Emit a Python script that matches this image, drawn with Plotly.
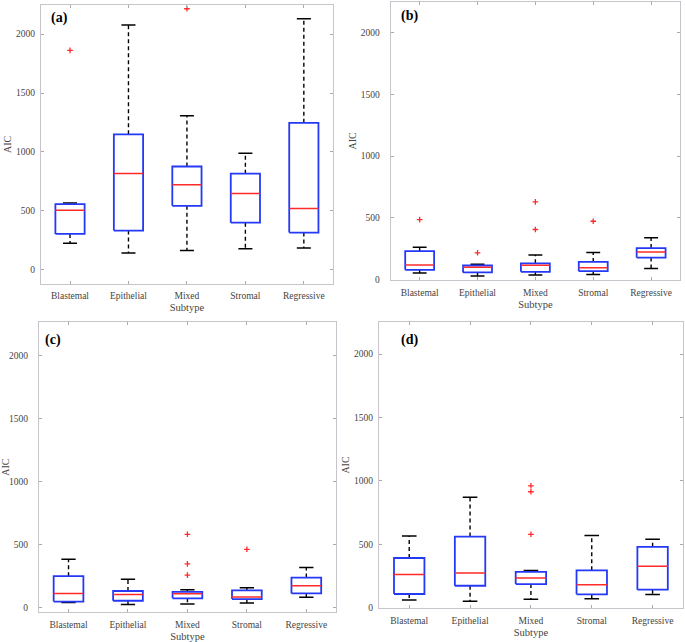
import plotly.graph_objects as go
from plotly.subplots import make_subplots

CATEGORIES = ["Blastemal", "Epithelial", "Mixed", "Stromal", "Regressive"]
Y_TICKS = [0, 500, 1000, 1500, 2000]
PANEL_LABELS = ["(a)", "(b)", "(c)", "(d)"]

# Panel (a)
A_LOWER = [225, 141, 163, 177, 183]
A_Q1 = [303, 332, 542, 399, 315]
A_MEDIAN = [505, 817, 722, 646, 520]
A_Q3 = [556, 1149, 876, 815, 1247]
A_UPPER = [565, 2078, 1306, 989, 2131]
A_OUTLIERS = [[1862], [], [2216], [], []]

# Panel (b)
B_LOWER = [51, 27, 35, 40, 88]
B_Q1 = [77, 56, 61, 66, 176]
B_MEDIAN = [117, 98, 114, 93, 221]
B_Q3 = [229, 112, 130, 141, 253]
B_UPPER = [260, 122, 197, 218, 338]
B_OUTLIERS = [[484], [215], [404, 628], [471], []]

# Panel (c)
C_LOWER = [40, 26, 29, 37, 82]
C_Q1 = [48, 55, 74, 68, 113]
C_MEDIAN = [113, 105, 110, 84, 174]
C_Q3 = [250, 132, 126, 137, 239]
C_UPPER = [384, 226, 142, 158, 318]
C_OUTLIERS = [[], [], [258, 347, 582], [463], []]

# Panel (d)
D_LOWER = [60, 49, 65, 70, 102]
D_Q1 = [107, 172, 185, 104, 141]
D_MEDIAN = [260, 273, 234, 180, 326]
D_Q3 = [391, 560, 281, 294, 479]
D_UPPER = [565, 870, 292, 568, 539]
D_OUTLIERS = [[], [], [578, 914, 961], [], []]

PANELS = [
    (A_LOWER, A_Q1, A_MEDIAN, A_Q3, A_UPPER, A_OUTLIERS),
    (B_LOWER, B_Q1, B_MEDIAN, B_Q3, B_UPPER, B_OUTLIERS),
    (C_LOWER, C_Q1, C_MEDIAN, C_Q3, C_UPPER, C_OUTLIERS),
    (D_LOWER, D_Q1, D_MEDIAN, D_Q3, D_UPPER, D_OUTLIERS),
]

W, H = 685, 642
# plot-area pixel boxes (left, right, top, bottom)
PIX = [(37, 331, 5, 286), (389, 680, 2, 282), (35, 334, 325, 616.5), (377, 683, 325, 612.3)]
Y_RANGES = [(-120, 2248), (-4, 2250), (-32, 2262), (0, 2250)]
LABEL_POS = [(45, 8), (397, 6), (39, 333), (397, 333)]
YLAB_STANDOFF = [3, 8, 8, 3]
XLAB_STANDOFF = [3, 4, 4, 4]

BOX_HALF = 0.25
CAP_HALF = 0.12
BLUE = "#2439f5"
RED = "#ff2a2a"

fig = make_subplots(rows=2, cols=2)

for p, (low, q1, med, q3, up, outs) in enumerate(PANELS):
    r, c = p // 2 + 1, p % 2 + 1
    bx, by, mx, my, wx, wy, cx, cy, ox, oy = [], [], [], [], [], [], [], [], [], []
    for i in range(len(CATEGORIES)):
        x0 = i + 1
        bx += [x0 - BOX_HALF, x0 + BOX_HALF, x0 + BOX_HALF, x0 - BOX_HALF, x0 - BOX_HALF, None]
        by += [q1[i], q1[i], q3[i], q3[i], q1[i], None]
        mx += [x0 - BOX_HALF, x0 + BOX_HALF, None]
        my += [med[i], med[i], None]
        wx += [x0, x0, None, x0, x0, None]
        wy += [q3[i], up[i], None, q1[i], low[i], None]
        cx += [x0 - CAP_HALF, x0 + CAP_HALF, None, x0 - CAP_HALF, x0 + CAP_HALF, None]
        cy += [up[i], up[i], None, low[i], low[i], None]
        for o in outs[i]:
            ox.append(x0)
            oy.append(o)
    fig.add_trace(go.Scatter(x=wx, y=wy, mode="lines", line=dict(color="black", width=1.4, dash="4px,3px"),
                             showlegend=False, hoverinfo="skip"), row=r, col=c)
    fig.add_trace(go.Scatter(x=cx, y=cy, mode="lines", line=dict(color="black", width=1.5),
                             showlegend=False, hoverinfo="skip"), row=r, col=c)
    fig.add_trace(go.Scatter(x=bx, y=by, mode="lines", line=dict(color=BLUE, width=1.8),
                             showlegend=False), row=r, col=c)
    fig.add_trace(go.Scatter(x=mx, y=my, mode="lines", line=dict(color=RED, width=1.5),
                             showlegend=False), row=r, col=c)
    fig.add_trace(go.Scatter(x=ox, y=oy, mode="markers",
                             marker=dict(symbol="cross-thin", size=4, line=dict(color=RED, width=1.3)),
                             showlegend=False), row=r, col=c)

    L, R, T, B = PIX[p]
    xd = [L / W, R / W]
    yd = [1 - B / H, 1 - T / H]
    fig.update_xaxes(row=r, col=c, domain=xd, range=[0.5, 5.5], tickmode="array",
                     tickvals=list(range(1, len(CATEGORIES) + 1)), ticktext=CATEGORIES,
                     ticks="inside", ticklen=3, tickcolor="#aaaaaa", showline=True,
                     linecolor="#c9c3cc", linewidth=1, mirror="ticks", showgrid=False, zeroline=False,
                     tickfont=dict(family="Liberation Serif", size=9.5, color="#444444"),
                     ticklabelstandoff=XLAB_STANDOFF[p],
                     title=dict(text="Subtype", standoff=3,
                                font=dict(family="Liberation Serif", size=10.5, color="#444444")))
    fig.update_yaxes(row=r, col=c, domain=yd, range=list(Y_RANGES[p]), tickmode="array",
                     tickvals=Y_TICKS, ticks="inside", ticklen=3, tickcolor="#aaaaaa", showline=True,
                     linecolor="#c9c3cc", linewidth=1, mirror="ticks", showgrid=False, zeroline=False,
                     tickfont=dict(family="Liberation Serif", size=9.5, color="#444444"),
                     ticklabelstandoff=YLAB_STANDOFF[p],
                     title=dict(text="AIC", standoff=2,
                                font=dict(family="Liberation Serif", size=10, color="#444444")))
    lx, ly = LABEL_POS[p]
    fig.add_annotation(text="<b>%s</b>" % PANEL_LABELS[p], xref="paper", yref="paper",
                       x=lx / W, y=1 - ly / H, xanchor="left", yanchor="top", showarrow=False,
                       font=dict(family="Liberation Serif", size=14, color="black"))

fig.update_layout(width=W, height=H, margin=dict(l=0, r=0, t=0, b=0),
                  paper_bgcolor="white", plot_bgcolor="white", showlegend=False)

fig.write_html("out.html", config={"displayModeBar": False},
               post_script="document.body.style.margin='0';")
